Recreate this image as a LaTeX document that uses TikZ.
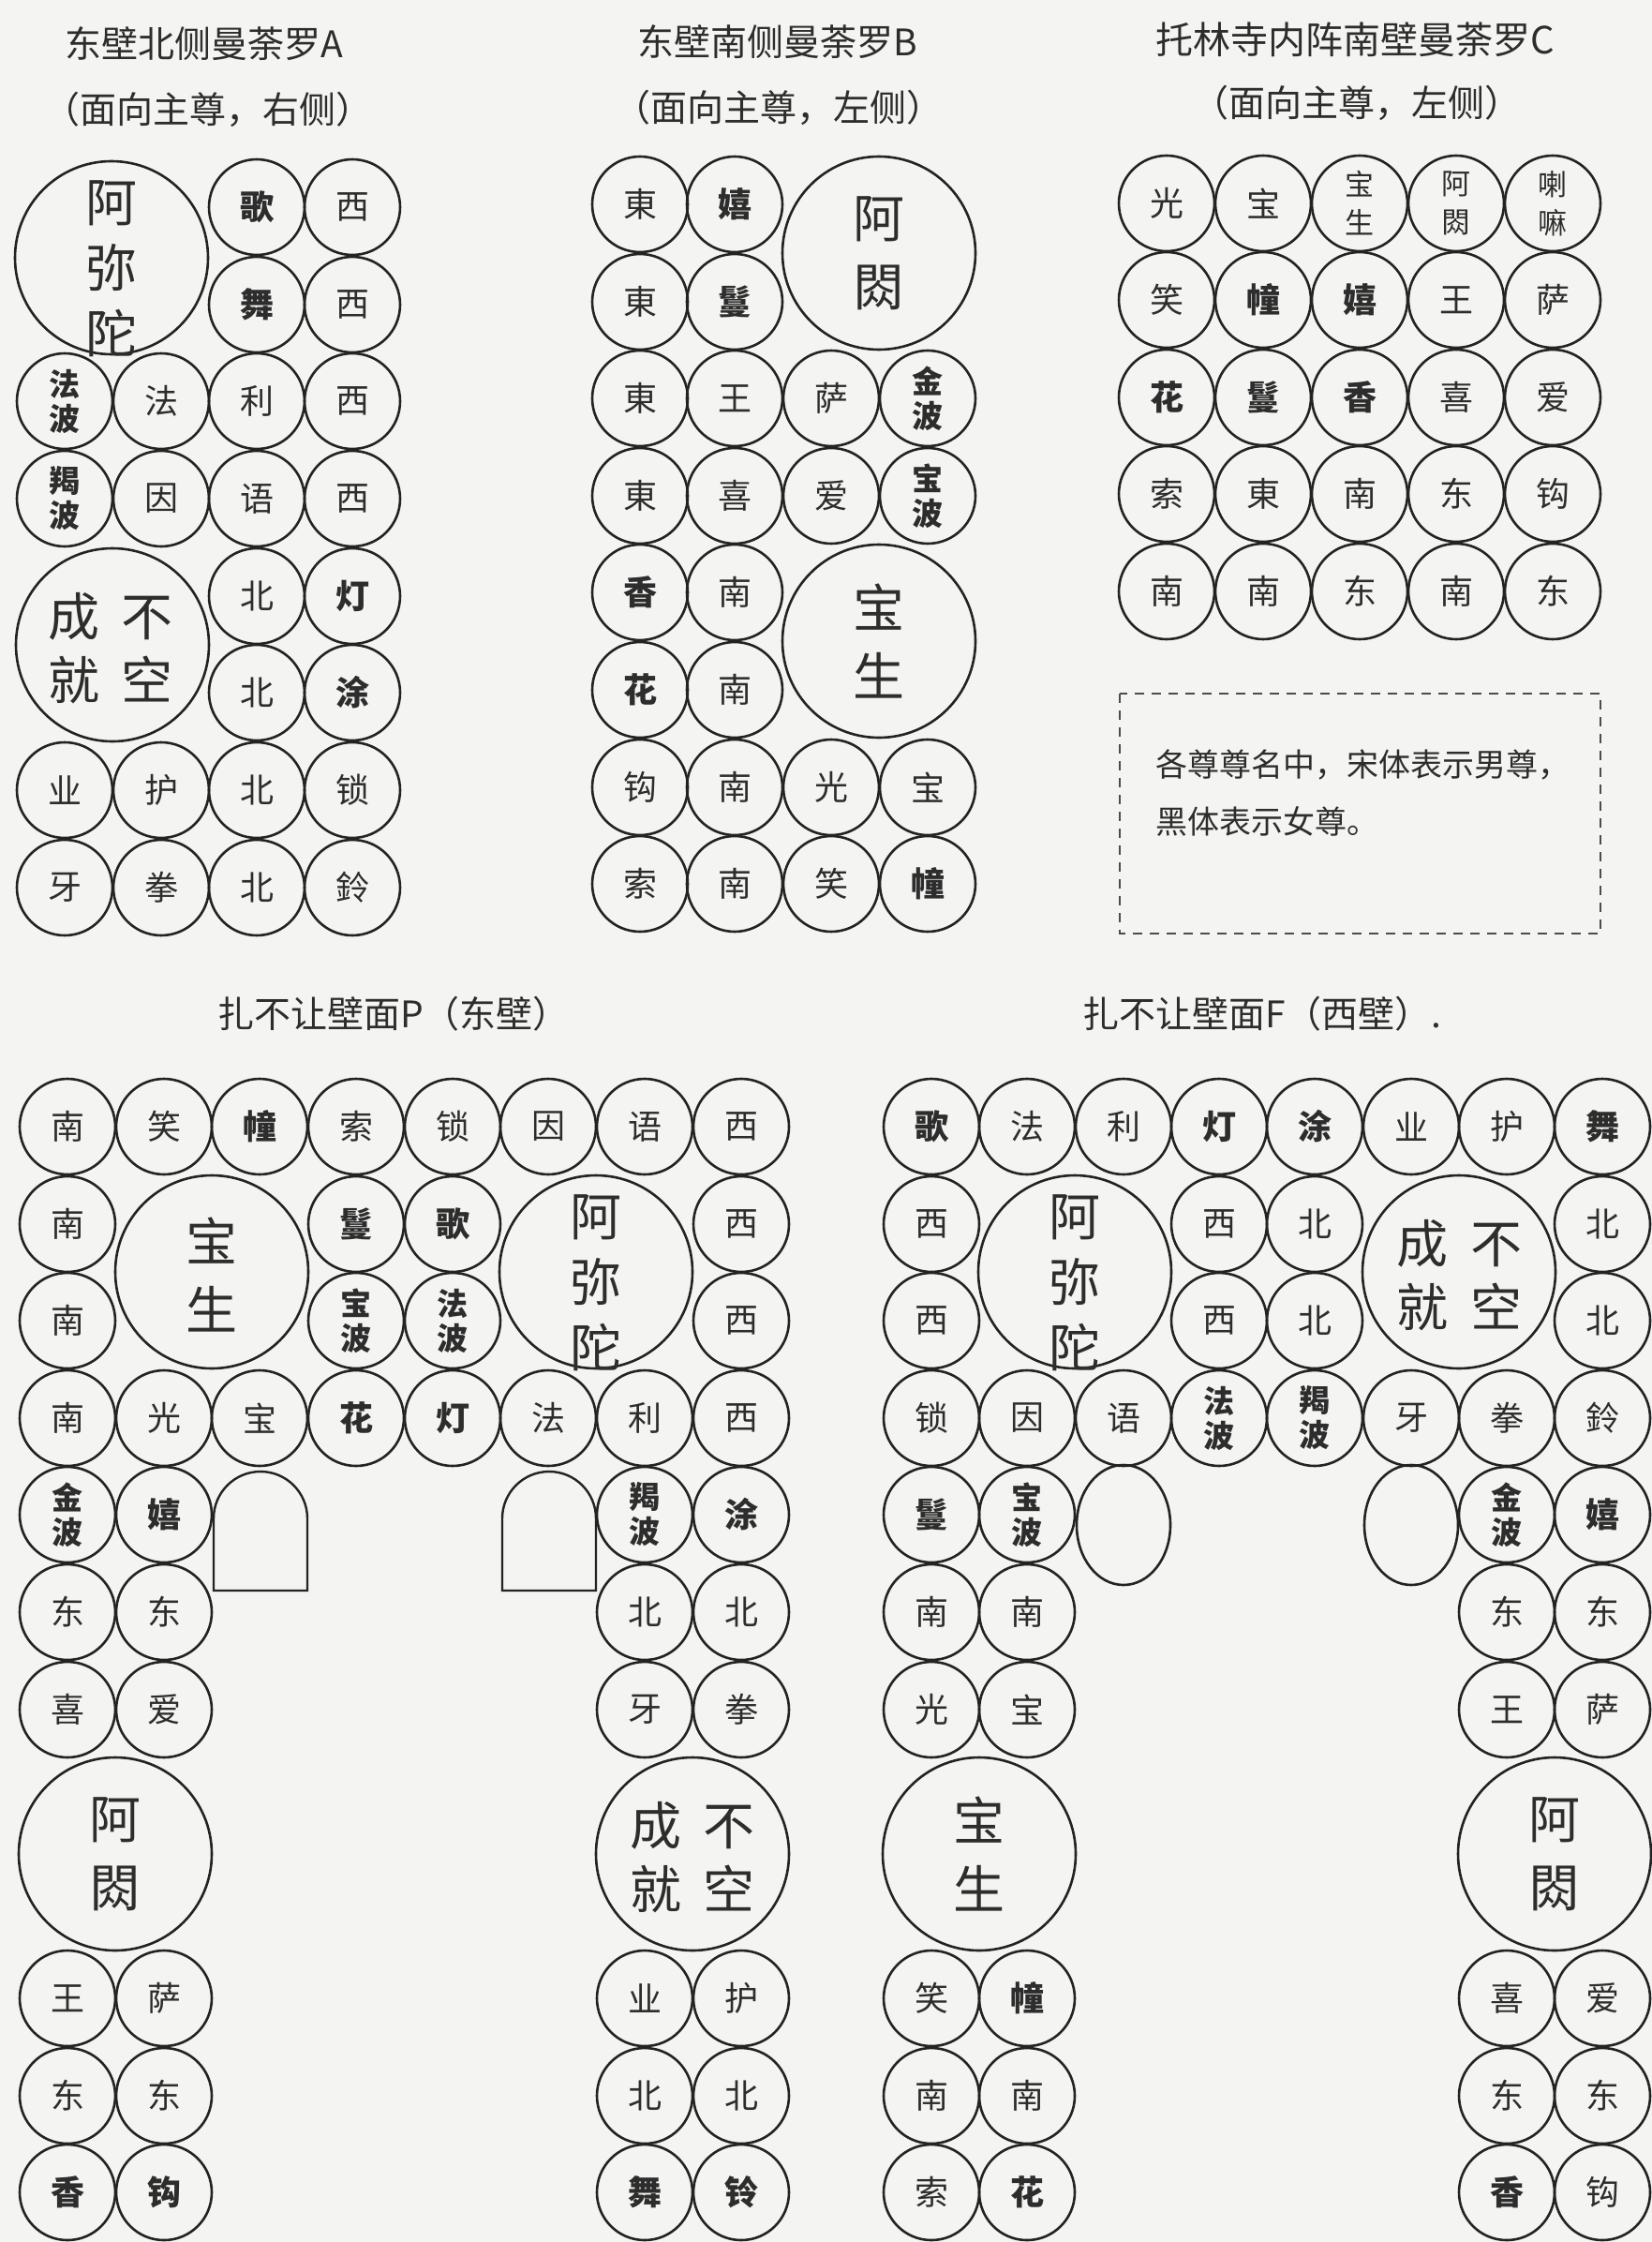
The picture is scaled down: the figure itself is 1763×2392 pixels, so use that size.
\documentclass[tikz,border=0pt]{standalone}
\usepackage{fontspec}
\usetikzlibrary{shapes.geometric}
\newfontfamily\cjk{Noto Sans CJK SC}
\definecolor{bgc}{RGB}{244,244,242}
\definecolor{linec}{RGB}{35,35,35}
\definecolor{textc}{RGB}{45,45,45}
\begin{document}
\begin{tikzpicture}[x=1pt,y=1pt,
  circbase/.style={circle, draw=linec, line width=2.6pt, minimum size=102pt, inner sep=0pt, text=textc},
  mch/.style={circbase, font=\cjk\fontsize{36}{40}\selectfont},
  fch/.style={circbase, font=\cjk\bfseries\fontsize{36}{40}\selectfont},
  fchtwo/.style={circbase, align=center, font=\cjk\bfseries\fontsize{33}{37}\selectfont},
  mchtwo/.style={circbase, align=center, font=\cjk\fontsize{31}{41}\selectfont},
  bigcirc/.style={circle, draw=linec, line width=2.6pt, minimum size=206pt, inner sep=0pt},
  bigtxt/.style={text=textc, inner sep=0pt, align=center},
  bigthree/.style={bigtxt, font=\cjk\fontsize{55}{70}\selectfont},
  bigtwo/.style={bigtxt, font=\cjk\fontsize{55}{73}\selectfont},
  bigfour/.style={bigtxt, font=\cjk\fontsize{55}{68}\selectfont},
  ttl/.style={text=textc, inner sep=0pt, font=\cjk\fontsize{39}{42}\selectfont},
  notetxt/.style={text=textc, inner sep=0pt, align=left, font=\cjk\fontsize{34}{61}\selectfont},
  notebox/.style={draw=black!70, line width=2pt, dash pattern=on 10pt off 8pt},
  archline/.style={draw=linec, line width=2.4pt},
  emptyell/.style={ellipse, draw=linec, line width=2.6pt, minimum width=100pt, minimum height=128pt, inner sep=0pt}
]
\fill[bgc] (0,0) rectangle (1763,-2392);
\useasboundingbox (0,0) rectangle (1763,-2392);

% ---------------- titles ----------------
\node[ttl] (tA1) at (218,-47) {东壁北侧曼荼罗A};
\node[ttl] (tA2) at (222,-117) {（面向主尊，右侧）};
\node[ttl] (tB1) at (830,-45) {东壁南侧曼荼罗B};
\node[ttl] (tB2) at (831,-115) {（面向主尊，左侧）};
\node[ttl, font=\cjk\fontsize{40}{44}\selectfont] (tC1) at (1446,-42) {托林寺内阵南壁曼荼罗C};
\node[ttl] (tC2) at (1448,-110) {（面向主尊，左侧）};
\node[ttl] (tP) at (420,-1082) {扎不让壁面P（东壁）};
\node[ttl] (tF) at (1347,-1082) {扎不让壁面F（西壁）.};

% ---------------- Mandala A ----------------
\node[bigcirc] (aAmi) at (119,-275) {};
\node[bigthree] (aAmiT) at (119,-287) {阿\\弥\\陀};
\node[fch] (a13) at (274,-221) {歌};
\node[mch] (a14) at (376,-221) {西};
\node[fch] (a23) at (274,-325) {舞};
\node[mch] (a24) at (376,-325) {西};
\node[fchtwo] (a31) at (69,-428) {法\\波};
\node[mch] (a32) at (172,-428) {法};
\node[mch] (a33) at (274,-428) {利};
\node[mch] (a34) at (376,-428) {西};
\node[fchtwo] (a41) at (69,-532) {羯\\波};
\node[mch] (a42) at (172,-532) {因};
\node[mch] (a43) at (274,-532) {语};
\node[mch] (a44) at (376,-532) {西};
\node[bigcirc] (aCj) at (120,-688) {};
\node[bigfour] (aCjT) at (118,-692) {成\hspace{24pt}不\\就\hspace{24pt}空};
\node[mch] (a53) at (274,-636) {北};
\node[fch] (a54) at (376,-636) {灯};
\node[mch] (a63) at (274,-739) {北};
\node[fch] (a64) at (376,-739) {涂};
\node[mch] (a71) at (69,-843) {业};
\node[mch] (a72) at (172,-843) {护};
\node[mch] (a73) at (274,-843) {北};
\node[mch] (a74) at (376,-843) {锁};
\node[mch] (a81) at (69,-947) {牙};
\node[mch] (a82) at (172,-947) {拳};
\node[mch] (a83) at (274,-947) {北};
\node[mch] (a84) at (376,-947) {鈴};

% ---------------- Mandala B ----------------
\node[mch] (b11) at (683,-218) {東};
\node[fch] (b12) at (784,-218) {嬉};
\node[bigcirc] (bAc) at (938,-270) {};
\node[bigtwo] (bAcT) at (938,-270) {阿\\閦};
\node[mch] (b21) at (683,-322) {東};
\node[fch] (b22) at (784,-322) {鬘};
\node[mch] (b31) at (683,-425) {東};
\node[mch] (b32) at (784,-425) {王};
\node[mch] (b33) at (887,-425) {萨};
\node[fchtwo] (b34) at (990,-425) {金\\波};
\node[mch] (b41) at (683,-529) {東};
\node[mch] (b42) at (784,-529) {喜};
\node[mch] (b43) at (887,-529) {爱};
\node[fchtwo] (b44) at (990,-529) {宝\\波};
\node[fch] (b51) at (683,-632) {香};
\node[mch] (b52) at (784,-632) {南};
\node[bigcirc] (bBs) at (938,-684) {};
\node[bigtwo] (bBsT) at (938,-684) {宝\\生};
\node[fch] (b61) at (683,-736) {花};
\node[mch] (b62) at (784,-736) {南};
\node[mch] (b71) at (683,-840) {钩};
\node[mch] (b72) at (784,-840) {南};
\node[mch] (b73) at (887,-840) {光};
\node[mch] (b74) at (990,-840) {宝};
\node[mch] (b81) at (683,-943) {索};
\node[mch] (b82) at (784,-943) {南};
\node[mch] (b83) at (887,-943) {笑};
\node[fch] (b84) at (990,-943) {幢};

% ---------------- Mandala C ----------------
\node[mch] (c11) at (1245,-217) {光};
\node[mch] (c12) at (1348,-217) {宝};
\node[mchtwo] (c13) at (1451,-217) {宝\\生};
\node[mchtwo] (c14) at (1554,-217) {阿\\閦};
\node[mchtwo] (c15) at (1657,-217) {喇\\嘛};
\node[mch] (c21) at (1245,-320) {笑};
\node[fch] (c22) at (1348,-320) {幢};
\node[fch] (c23) at (1451,-320) {嬉};
\node[mch] (c24) at (1554,-320) {王};
\node[mch] (c25) at (1657,-320) {萨};
\node[fch] (c31) at (1245,-424) {花};
\node[fch] (c32) at (1348,-424) {鬘};
\node[fch] (c33) at (1451,-424) {香};
\node[mch] (c34) at (1554,-424) {喜};
\node[mch] (c35) at (1657,-424) {爱};
\node[mch] (c41) at (1245,-527) {索};
\node[mch] (c42) at (1348,-527) {東};
\node[mch] (c43) at (1451,-527) {南};
\node[mch] (c44) at (1554,-527) {东};
\node[mch] (c45) at (1657,-527) {钩};
\node[mch] (c51) at (1245,-631) {南};
\node[mch] (c52) at (1348,-631) {南};
\node[mch] (c53) at (1451,-631) {东};
\node[mch] (c54) at (1554,-631) {南};
\node[mch] (c55) at (1657,-631) {东};

% note box
\draw[notebox] (1195,-740) rectangle (1708,-996);
\node[notetxt, anchor=west] (noteT) at (1233,-846) {各尊尊名中，宋体表示男尊，\\黑体表示女尊。};

% ---------------- Panel P ----------------
\node[mch] (p11) at (72,-1202) {南};
\node[mch] (p12) at (175,-1202) {笑};
\node[fch] (p13) at (277,-1202) {幢};
\node[mch] (p14) at (380,-1202) {索};
\node[mch] (p15) at (483,-1202) {锁};
\node[mch] (p16) at (585,-1202) {因};
\node[mch] (p17) at (688,-1202) {语};
\node[mch] (p18) at (791,-1202) {西};
\node[mch] (p21) at (72,-1306) {南};
\node[bigcirc] (pBs) at (226,-1357) {};
\node[bigtwo] (pBsT) at (226,-1360) {宝\\生};
\node[fch] (p24) at (380,-1306) {鬘};
\node[fch] (p25) at (483,-1306) {歌};
\node[bigcirc] (pAmi) at (636,-1357) {};
\node[bigthree] (pAmiT) at (636,-1369) {阿\\弥\\陀};
\node[mch] (p28) at (791,-1306) {西};
\node[mch] (p31) at (72,-1409) {南};
\node[fchtwo] (p34) at (380,-1409) {宝\\波};
\node[fchtwo] (p35) at (483,-1409) {法\\波};
\node[mch] (p38) at (791,-1409) {西};
\node[mch] (p41) at (72,-1513) {南};
\node[mch] (p42) at (175,-1513) {光};
\node[mch] (p43) at (277,-1513) {宝};
\node[fch] (p44) at (380,-1513) {花};
\node[fch] (p45) at (483,-1513) {灯};
\node[mch] (p46) at (585,-1513) {法};
\node[mch] (p47) at (688,-1513) {利};
\node[mch] (p48) at (791,-1513) {西};
\node[fchtwo] (p51) at (72,-1616) {金\\波};
\node[fch] (p52) at (175,-1616) {嬉};
\draw[archline] (228,-1697) -- (228,-1620) arc[start angle=180, end angle=0, radius=50] -- (328,-1697) -- cycle;
\draw[archline] (536,-1697) -- (536,-1620) arc[start angle=180, end angle=0, radius=50] -- (636,-1697) -- cycle;
\node[fchtwo] (p57) at (688,-1616) {羯\\波};
\node[fch] (p58) at (791,-1616) {涂};
\node[mch] (p61) at (72,-1720) {东};
\node[mch] (p62) at (175,-1720) {东};
\node[mch] (p67) at (688,-1720) {北};
\node[mch] (p68) at (791,-1720) {北};
\node[mch] (p71) at (72,-1824) {喜};
\node[mch] (p72) at (175,-1824) {爱};
\node[mch] (p77) at (688,-1824) {牙};
\node[mch] (p78) at (791,-1824) {拳};
\node[bigcirc] (pAc) at (123,-1978) {};
\node[bigtwo] (pAcT) at (123,-1978) {阿\\閦};
\node[bigcirc] (pCj) at (739,-1978) {};
\node[bigfour] (pCjT) at (739,-1982) {成\hspace{24pt}不\\就\hspace{24pt}空};
\node[mch] (p81) at (72,-2132) {王};
\node[mch] (p82) at (175,-2132) {萨};
\node[mch] (p87) at (688,-2132) {业};
\node[mch] (p88) at (791,-2132) {护};
\node[mch] (p91) at (72,-2236) {东};
\node[mch] (p92) at (175,-2236) {东};
\node[mch] (p97) at (688,-2236) {北};
\node[mch] (p98) at (791,-2236) {北};
\node[fch] (p01) at (72,-2339) {香};
\node[fch] (p02) at (175,-2339) {钩};
\node[fch] (p07) at (688,-2339) {舞};
\node[fch] (p08) at (791,-2339) {铃};

% ---------------- Panel F ----------------
\node[fch] (f11) at (994,-1202) {歌};
\node[mch] (f12) at (1096,-1202) {法};
\node[mch] (f13) at (1199,-1202) {利};
\node[fch] (f14) at (1301,-1202) {灯};
\node[fch] (f15) at (1403,-1202) {涂};
\node[mch] (f16) at (1506,-1202) {业};
\node[mch] (f17) at (1608,-1202) {护};
\node[fch] (f18) at (1710,-1202) {舞};
\node[mch] (f21) at (994,-1306) {西};
\node[bigcirc] (fAmi) at (1147,-1357) {};
\node[bigthree] (fAmiT) at (1147,-1369) {阿\\弥\\陀};
\node[mch] (f24) at (1301,-1306) {西};
\node[mch] (f25) at (1403,-1306) {北};
\node[bigcirc] (fCj) at (1557,-1357) {};
\node[bigfour] (fCjT) at (1557,-1361) {成\hspace{24pt}不\\就\hspace{24pt}空};
\node[mch] (f28) at (1710,-1306) {北};
\node[mch] (f31) at (994,-1409) {西};
\node[mch] (f34) at (1301,-1409) {西};
\node[mch] (f35) at (1403,-1409) {北};
\node[mch] (f38) at (1710,-1409) {北};
\node[mch] (f41) at (994,-1513) {锁};
\node[mch] (f42) at (1096,-1513) {因};
\node[mch] (f43) at (1199,-1513) {语};
\node[fchtwo] (f44) at (1301,-1513) {法\\波};
\node[fchtwo] (f45) at (1403,-1513) {羯\\波};
\node[mch] (f46) at (1506,-1513) {牙};
\node[mch] (f47) at (1608,-1513) {拳};
\node[mch] (f48) at (1710,-1513) {鈴};
\node[fch] (f51) at (994,-1616) {鬘};
\node[fchtwo] (f52) at (1096,-1616) {宝\\波};
\node[emptyell] (f53) at (1199,-1627) {};
\node[emptyell] (f56) at (1506,-1627) {};
\node[fchtwo] (f57) at (1608,-1616) {金\\波};
\node[fch] (f58) at (1710,-1616) {嬉};
\node[mch] (f61) at (994,-1720) {南};
\node[mch] (f62) at (1096,-1720) {南};
\node[mch] (f67) at (1608,-1720) {东};
\node[mch] (f68) at (1710,-1720) {东};
\node[mch] (f71) at (994,-1824) {光};
\node[mch] (f72) at (1096,-1824) {宝};
\node[mch] (f77) at (1608,-1824) {王};
\node[mch] (f78) at (1710,-1824) {萨};
\node[bigcirc] (fBs) at (1045,-1978) {};
\node[bigtwo] (fBsT) at (1045,-1978) {宝\\生};
\node[bigcirc] (fAc) at (1659,-1978) {};
\node[bigtwo] (fAcT) at (1659,-1978) {阿\\閦};
\node[mch] (f81) at (994,-2132) {笑};
\node[fch] (f82) at (1096,-2132) {幢};
\node[mch] (f87) at (1608,-2132) {喜};
\node[mch] (f88) at (1710,-2132) {爱};
\node[mch] (f91) at (994,-2236) {南};
\node[mch] (f92) at (1096,-2236) {南};
\node[mch] (f97) at (1608,-2236) {东};
\node[mch] (f98) at (1710,-2236) {东};
\node[mch] (f01) at (994,-2339) {索};
\node[fch] (f02) at (1096,-2339) {花};
\node[fch] (f07) at (1608,-2339) {香};
\node[mch] (f08) at (1710,-2339) {钩};
\end{tikzpicture}
\end{document}
